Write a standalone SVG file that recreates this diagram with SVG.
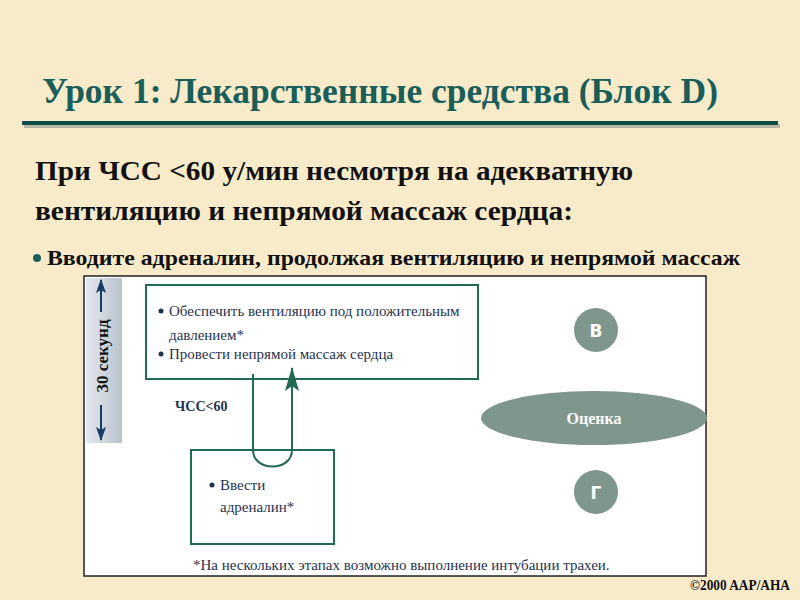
<svg xmlns="http://www.w3.org/2000/svg" width="800" height="600" viewBox="0 0 800 600">
<defs>
<linearGradient id="strip" x1="0" y1="0" x2="1" y2="0">
<stop offset="0" stop-color="#e4e8ee"/>
<stop offset="1" stop-color="#b8c3ce"/>
</linearGradient>
<marker id="ah" viewBox="0 0 24 14" refX="23" refY="7" markerWidth="24" markerHeight="14" markerUnits="userSpaceOnUse" orient="auto">
<path d="M24,7 L0,0 L5,7 L0,14 Z" fill="#1f6b53"/>
</marker>
<marker id="nav" viewBox="0 0 14 10" refX="13" refY="5" markerWidth="14" markerHeight="10" markerUnits="userSpaceOnUse" orient="auto">
<path d="M14,5 L0,0 L3,5 L0,10 Z" fill="#1a3a66"/>
</marker>
</defs>
<style>
.box{fill:none;stroke:#1f6b53;stroke-width:2}
.bt{font-size:15px;fill:#1f3350}
.node{fill:#7e968c}
.nt{font-weight:bold;fill:#ffffff;text-anchor:middle}
.conn{fill:none;stroke:#1f6b53;stroke-width:2}
</style>
<rect width="800" height="600" fill="#f8ebca"/>
<text x="42" y="103" font-family="'Liberation Serif', serif" font-weight="bold" font-size="36" fill="#1a5e5a" textLength="676" lengthAdjust="spacingAndGlyphs">Урок 1: Лекарственные средства (Блок D)</text>
<rect x="24" y="124" width="756" height="4" fill="#7a8a80" opacity="0.5"/>
<rect x="22" y="121" width="756" height="4" fill="#0f4f4a"/>
<text x="35" y="180" font-family="'Liberation Serif', serif" font-weight="bold" font-size="28" fill="#111" textLength="598" lengthAdjust="spacingAndGlyphs">При ЧСС &lt;60 у/мин несмотря на адекватную</text>
<text x="35" y="220" font-family="'Liberation Serif', serif" font-weight="bold" font-size="28" fill="#111" textLength="538" lengthAdjust="spacingAndGlyphs">вентиляцию и непрямой массаж сердца:</text>
<circle cx="37" cy="258" r="4" fill="#1a5e5a"/>
<text x="47" y="265" font-family="'Liberation Serif', serif" font-weight="bold" font-size="21" fill="#111" textLength="693" lengthAdjust="spacingAndGlyphs">Вводите адреналин, продолжая вентиляцию и непрямой массаж</text>
<rect x="84" y="276" width="622" height="300" fill="#ffffff" stroke="#222" stroke-width="1.5"/>
<g id="timeline">
<rect x="86" y="278" width="36" height="165" fill="url(#strip)"/>
<line x1="101" y1="312" x2="101" y2="280" stroke="#1a3a66" stroke-width="2" marker-end="url(#nav)"/>
<line x1="101" y1="405" x2="101" y2="440" stroke="#1a3a66" stroke-width="2" marker-end="url(#nav)"/>
<text transform="translate(108,356) rotate(-90)" font-family="'Liberation Serif', serif" font-weight="bold" font-size="17" fill="#111" text-anchor="middle">30 секунд</text>
</g>
<g id="connectors">
<path class="conn" d="M253,374 V450 C253,472 292,472 292,450 V368" marker-end="url(#ah)"/>
<text x="175" y="411" font-family="'Liberation Serif', serif" font-weight="bold" font-size="14" fill="#1f3350">ЧСС&lt;60</text>
</g>
<g id="box1">
<rect class="box" x="146" y="285" width="332" height="94"/>
<circle cx="161" cy="311" r="2.5" fill="#1f3350"/>
<text class="bt" x="169" y="316" font-family="'Liberation Serif', serif">Обеспечить вентиляцию под положительным</text>
<text class="bt" x="169" y="340" font-family="'Liberation Serif', serif">давлением*</text>
<circle cx="161" cy="354" r="2.5" fill="#1f3350"/>
<text class="bt" x="169" y="359" font-family="'Liberation Serif', serif">Провести непрямой массаж сердца</text>
</g>
<g id="box2">
<rect class="box" x="191" y="450" width="143" height="94"/>
<circle cx="212" cy="485" r="2.5" fill="#1f3350"/>
<text class="bt" x="220" y="490" font-family="'Liberation Serif', serif">Ввести</text>
<text class="bt" x="220" y="512" font-family="'Liberation Serif', serif">адреналин*</text>
</g>
<g id="nodeB">
<circle class="node" cx="596" cy="330" r="22"/>
<text class="nt" x="596" y="337" font-family="'DejaVu Sans', sans-serif" font-size="17">В</text>
</g>
<g id="nodeEval">
<ellipse class="node" cx="594" cy="418" rx="113" ry="27"/>
<text class="nt" x="594" y="424" font-family="'Liberation Serif', serif" font-size="16">Оценка</text>
</g>
<g id="nodeG">
<circle class="node" cx="596" cy="492" r="22"/>
<text class="nt" x="596" y="499" font-family="'DejaVu Sans', sans-serif" font-size="17">Г</text>
</g>
<text class="bt" x="193" y="570" font-family="'Liberation Serif', serif">*На нескольких этапах возможно выполнение интубации трахеи.</text>
<text x="790" y="590" font-family="'Liberation Serif', serif" font-weight="bold" font-size="14" fill="#111" text-anchor="end" textLength="100" lengthAdjust="spacingAndGlyphs">©2000 AAP/AHA</text>
</svg>
